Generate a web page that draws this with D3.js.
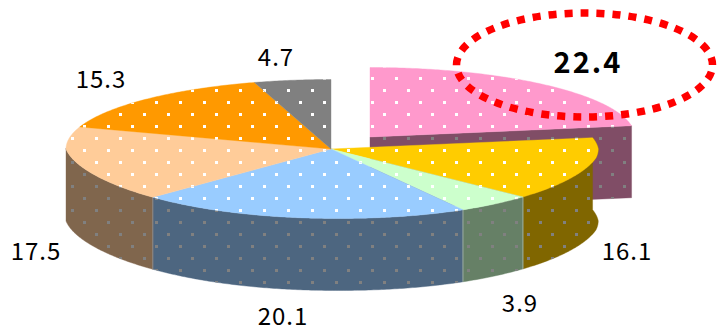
<!DOCTYPE html>
<html><head><meta charset="utf-8">
<script src="https://cdn.jsdelivr.net/npm/d3@7"></script>
<style>html,body{margin:0;padding:0;background:#fff;overflow:hidden}svg{display:block}
text{font-family:"Noto Sans CJK JP","Noto Sans",sans-serif;fill:#000}</style>
</head><body><svg id="c" width="717" height="327"></svg>
<script>
const categories=["A","B","C","D","E","F","G"];
const values=[22.4,16.1,3.9,20.1,17.5,15.3,4.7];
const labels=["22.4","16.1","3.9","20.1","17.5","15.3","4.7"];
const topColors=["#ff99cc","#ffcc00","#ccffcc","#99ccff","#ffcc99","#ff9900","#808080"];
const sideColors=["#804d66","#806600","#668066","#4d6680","#80664d","#804d00","#404040"];
const labelAnchors=[[588,73],[627,260],[520,312],[283,325],[36,260],[101,88],[276,66]];

const svg=d3.select("#c");
const cx=331,cy=149,rx=265,ry=69.5,depth=72,shear=0.1,narrow=0.04,bulge=4;
const explode=[39,-12];
const deg=Math.PI/180;
const sx=d3.scaleLinear().domain([-1,1]).range([cx-rx,cx+rx]);
const sy=d3.scaleLinear().domain([-1,1]).range([cy-ry,cy+ry]);
// view distortion of the 3-D pie: angle as drawn against true angle, in degrees
const warp=d3.scaleLinear().domain([0,80.6,138.6,152.6,225,360]).range([0,80.6,133.6,151,226,360]);
const bulgeAt=d3.scaleLinear().domain([-0.17,0.13]).range([0,bulge]).clamp(true);
function proj(a){
  const t=warp(a/deg)*deg;
  const c=-Math.cos(t),s=Math.sin(t);
  const f=c>0?1-narrow*Math.abs(Math.sin(2*t)):1;
  const y=sy(c);
  return [sx(s*f)+shear*Math.max(0,y-cy)+(s>0?bulgeAt(c)*s:0),y];
}
const defs=svg.append("defs");
function pattern(id,col){
  const p=defs.append("pattern").attr("id",id).attr("patternUnits","userSpaceOnUse")
    .attr("width",24).attr("height",24).attr("patternTransform","translate(191,89)");
  [[0,0],[12,12]].forEach(d=>p.append("rect").attr("x",d[0]).attr("y",d[1]).attr("width",3).attr("height",3).attr("fill",col).attr("shape-rendering","crispEdges"));
}
pattern("dotW","#fff");pattern("dotG","#808080");

const pie=d3.pie().sort(null).startAngle(0).endAngle(2*Math.PI)(values);
const line=d3.line();
function arcPts(a0,a1){
  const n=Math.max(2,Math.ceil((a1-a0)/0.01));
  return d3.range(n+1).map(i=>proj(a0+(a1-a0)*i/n));
}
function drawPoly(pts,fill,dot,dx=0,dy=0){
  const d=line(pts.map(p=>[p[0]+dx,p[1]+dy]))+"Z";
  svg.append("path").attr("d",d).attr("fill",fill).attr("stroke",fill).attr("stroke-width",0.4);
  svg.append("path").attr("d",d).attr("fill",`url(#${dot})`);
}
// exploded slice cut wall (behind everything)
{
  const e=proj(pie[0].endAngle);
  drawPoly([[cx,cy],e,[e[0],e[1]+depth],[cx,cy+depth]],sideColors[0],"dotG",explode[0],explode[1]);
}
// outer side walls of the front half
pie.slice(1).forEach((s,i)=>{
  const a0=s.startAngle,a1=Math.min(s.endAngle,3*Math.PI/2);
  if(a1<=a0)return;
  const top=arcPts(a0,a1);
  const bottom=top.map(p=>[p[0],p[1]+depth]).reverse();
  drawPoly(top.concat(bottom),sideColors[i+1],"dotG");
});
// seam lines on the side wall
[[1,"#9fb09f"],[2,"#9fb09f"],[3,"#8a8a8a"]].forEach(([i,c])=>{
  const p=proj(pie[i].endAngle);
  svg.append("line").attr("x1",p[0]).attr("x2",p[0]).attr("y1",p[1]).attr("y2",p[1]+depth).attr("stroke",c).attr("stroke-width",1);
});
// top faces
pie.forEach((s,i)=>{
  const pts=[[cx,cy]].concat(arcPts(s.startAngle,s.endAngle));
  const off=i===0?explode:[0,0];
  drawPoly(pts,topColors[i],"dotW",off[0],off[1]);
});
// highlight ellipse
svg.append("ellipse").attr("cx",584.5).attr("cy",65).attr("rx",128).attr("ry",52)
  .attr("fill","none").attr("stroke","#ff0000").attr("stroke-width",7.5).attr("stroke-dasharray","8 8").attr("stroke-dashoffset",9);
// labels
labels.forEach((t,i)=>{
  svg.append("text").attr("x",labelAnchors[i][0]).attr("y",labelAnchors[i][1])
    .attr("text-anchor","middle").attr("font-size",i===0?29:24).attr("font-weight",i===0?700:400)
    .attr("letter-spacing",i===0?2:1).text(t);
});
</script></body></html>
